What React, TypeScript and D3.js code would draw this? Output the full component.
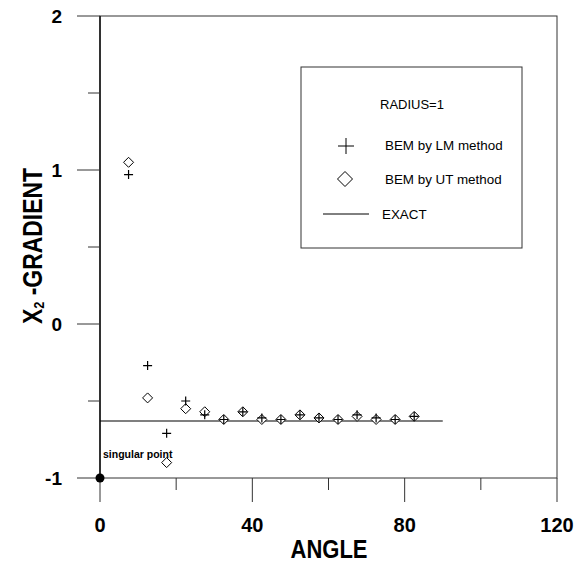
import React from 'react'
import * as d3 from 'd3'

// angle (deg) of each boundary node
const angles = [7.5, 12.5, 17.5, 22.5, 27.5, 32.5, 37.5, 42.5, 47.5, 52.5, 57.5, 62.5, 67.5, 72.5, 77.5, 82.5]
// BEM by LM method
const lmValues = [0.97, -0.27, -0.71, -0.50, -0.59, -0.62, -0.57, -0.61, -0.62, -0.59, -0.61, -0.62, -0.59, -0.61, -0.62, -0.60]
// BEM by UT method
const utValues = [1.05, -0.48, -0.90, -0.55, -0.57, -0.62, -0.57, -0.62, -0.62, -0.59, -0.61, -0.62, -0.60, -0.62, -0.62, -0.60]
// exact solution
const exactAngles = [0, 90]
const exactValues = [-0.63, -0.63]
const singular = { angle: 0, value: -1 }

const xMajor = [0, 40, 80, 120]
const xMinor = [20, 60, 100]
const yMajor = [-1, 0, 1, 2]
const yMinor = [-0.5, 0.5, 1.5]

const font = '"Liberation Sans", Arial, sans-serif'

export default function App() {
  const W = 577
  const H = 565
  const x = d3.scaleLinear().domain([0, 120]).range([100, 557])
  const y = d3.scaleLinear().domain([-1, 2]).range([478, 16])

  const exactLine = d3.line<number>()
    .x((d, i) => x(exactAngles[i]))
    .y(d => y(d))(exactValues) || ''

  const plus = (cx: number, cy: number, s: number) =>
    `M${cx - s},${cy}H${cx + s}M${cx},${cy - s}V${cy + s}`
  const diamond = (cx: number, cy: number, s: number) =>
    `M${cx},${cy - s}L${cx + s},${cy}L${cx},${cy + s}L${cx - s},${cy}Z`

  return (
    <svg width={W} height={H} style={{ position: 'absolute', left: 0, top: 0, background: '#fff' }}
      fontFamily={font}>
      {/* frame */}
      <rect x={x(0)} y={y(2)} width={x(120) - x(0)} height={y(-1) - y(2)}
        fill="none" stroke="#333" strokeWidth={1} />
      <line x1={x(0)} x2={x(0)} y1={y(2)} y2={y(-1)} stroke="#111" strokeWidth={1.5} />

      {/* y ticks */}
      {yMajor.map(v => (
        <g key={'ym' + v}>
          <line x1={77} x2={x(0)} y1={y(v)} y2={y(v)} stroke="#333" />
          <text x={62} y={y(v)} dy="0.36em" textAnchor="end" fontSize={19} fontWeight="bold">{v}</text>
        </g>
      ))}
      {yMinor.map(v => (
        <line key={'yn' + v} x1={88} x2={x(0)} y1={y(v)} y2={y(v)} stroke="#333" />
      ))}

      {/* x ticks */}
      {xMajor.map(v => (
        <g key={'xm' + v}>
          <line x1={x(v)} x2={x(v)} y1={y(-1)} y2={502} stroke="#333" />
          <text x={x(v)} y={532} textAnchor="middle" fontSize={20} fontWeight="bold">{v}</text>
        </g>
      ))}
      {xMinor.map(v => (
        <line key={'xn' + v} x1={x(v)} x2={x(v)} y1={y(-1)} y2={490} stroke="#333" />
      ))}

      {/* axis titles */}
      <g transform="translate(329,558) scale(0.88,1)">
        <text textAnchor="middle" fontSize={25} fontWeight="bold">ANGLE</text>
      </g>
      <g transform="translate(42,246) rotate(-90) scale(0.85,1)">
        <text textAnchor="middle" fontSize={27} fontWeight="bold">
          X<tspan fontSize={15} dy={2}>2</tspan><tspan dy={-2}> -GRADIENT</tspan>
        </text>
      </g>

      {/* exact */}
      <path d={exactLine} fill="none" stroke="#000" strokeWidth={1.2} />

      {/* BEM markers */}
      {angles.map((a, i) => (
        <path key={'ut' + i} d={diamond(x(a), y(utValues[i]), 5)} fill="#fff" stroke="#000" strokeWidth={1} />
      ))}
      {angles.map((a, i) => (
        <path key={'lm' + i} d={plus(x(a), y(lmValues[i]), 4.5)} fill="none" stroke="#000" strokeWidth={1.2} />
      ))}

      {/* singular point */}
      <circle cx={x(singular.angle)} cy={y(singular.value)} r={4.5} fill="#000" />
      <text x={103} y={458} fontSize={10.5} fontWeight="bold">singular point</text>

      {/* legend */}
      <rect x={301} y={67} width={221} height={181} fill="#fff" stroke="#333" strokeWidth={1} />
      <text x={380} y={109} fontSize={13}>RADIUS=1</text>
      <path d={plus(346, 146, 8)} stroke="#000" strokeWidth={1} fill="none" />
      <text x={385} y={150} fontSize={13.4}>BEM by LM method</text>
      <path d={diamond(345, 179, 7.5)} stroke="#000" strokeWidth={1} fill="#fff" />
      <text x={385} y={184} fontSize={13.4}>BEM by UT method</text>
      <line x1={323} x2={369} y1={214} y2={214} stroke="#000" strokeWidth={1} />
      <text x={382} y={219} fontSize={13.4}>EXACT</text>
    </svg>
  )
}
